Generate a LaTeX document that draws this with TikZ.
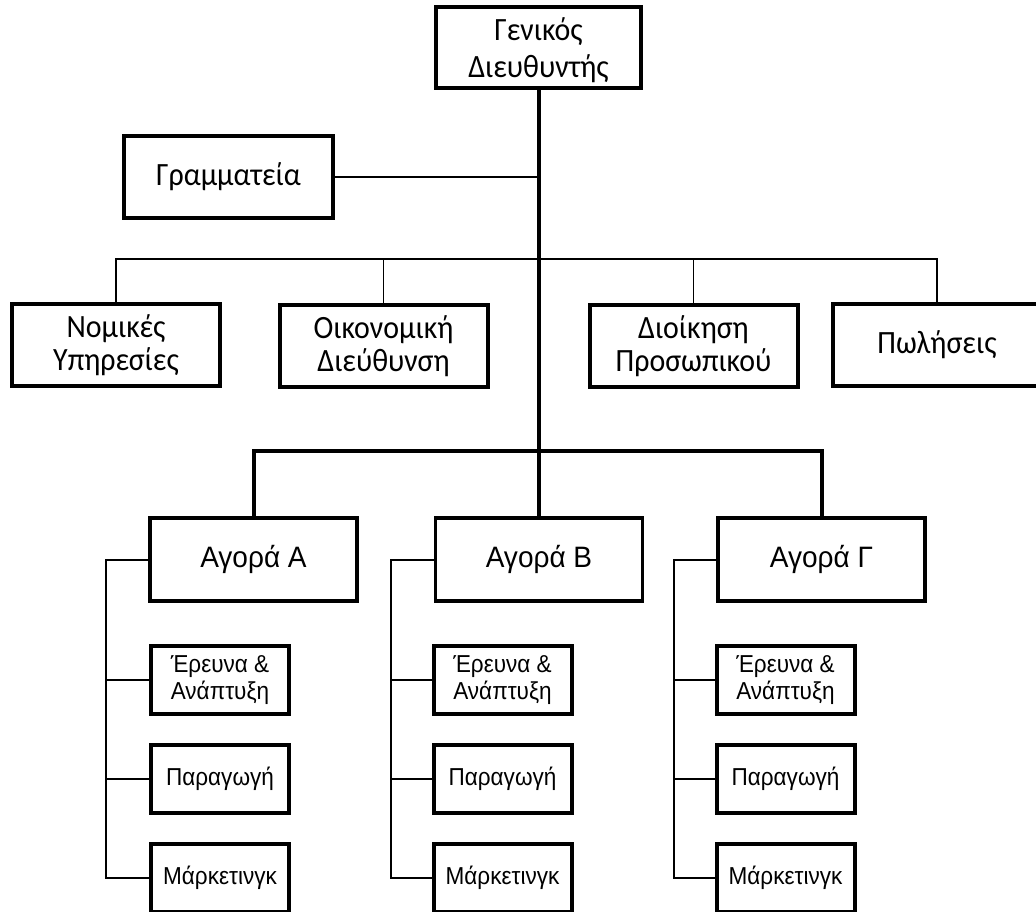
\documentclass[tikz,border=0pt]{standalone}
\usepackage{fontspec}
\setmainfont{Liberation Sans}
\newfontfamily\headfont[FakeStretch=0.92]{Carlito}
\newfontfamily\marketfont[FakeStretch=0.95]{Liberation Sans}
\newfontfamily\deptfont[FakeStretch=0.92]{Liberation Sans}
\begin{document}
\begin{tikzpicture}[x=1pt,y=-1pt,
  box/.style={draw, rectangle, line width=4pt, inner sep=0pt, align=center},
  headbox/.style={box, minimum width=208pt, minimum height=82pt,
    font=\headfont\fontsize{32.5}{33}\selectfont},
  marketbox/.style={box, line width=3.6pt, minimum width=207pt, minimum height=83pt,
    font=\marketfont\fontsize{29.5}{33}\selectfont},
  subbox/.style={box, minimum width=138pt, minimum height=68pt,
    font=\deptfont\fontsize{24.5}{27}\selectfont},
  trunk/.style={line width=4pt},
  thinline/.style={line width=1.3pt},
  bracket/.style={line width=2pt}]
\useasboundingbox (0,0) rectangle (1036,912);

% top management and staff units
\node[headbox, minimum width=205pt, minimum height=81pt,
  font=\headfont\fontsize{32.5}{37}\selectfont] (gm) at (538.5,47.5)
  {\rule{0pt}{29pt}Γενικός\\Διευθυντής};
\node[headbox, minimum width=209pt] (gram) at (228.5,177) {Γραμματεία};
\node[headbox] (nom) at (116,345) {Νομικές\\Υπηρεσίες};
\node[headbox] (oik) at (383.5,346) {Οικονομική\\Διεύθυνση};
\node[headbox] (dio) at (693.5,346) {Διοίκηση\\Προσωπικού};
\node[headbox] (pol) at (937,345) {Πωλήσεις};

\coordinate (bj) at (538.5,259);
\coordinate (tj) at (538.5,451);

% markets and their departments
\foreach \k/\cx/\sx/\bx/\lab in {A/253.5/220/106/{Αγορά Α}, B/539/502.5/391/{Αγορά Β}, G/821.5/785.5/674/{Αγορά Γ}} {
  \node[marketbox] (m\k) at (\cx,559.5) {\lab};
  \node[subbox] (r\k) at (\sx,680) {Έρευνα \&\\Ανάπτυξη};
  \node[subbox] (p\k) at (\sx,778.5) {Παραγωγή};
  \node[subbox] (k\k) at (\sx,877.5) {Μάρκετινγκ};
  \coordinate (b\k) at (\bx,559.5);
  \draw[bracket] (m\k.west) -- (b\k) |- (k\k.west);
  \draw[bracket] (b\k |- r\k.west) -- (r\k.west);
  \draw[bracket] (b\k |- p\k.west) -- (p\k.west);
}

% main line of authority
\draw[trunk] (gm.south) -- (gm.south |- mB.north);
\draw[trunk] (mA.north) -- (mA.north |- tj) -- (mG.north |- tj) -- (mG.north);

% staff connections
\draw[thinline] (gram.east) -- (gram.east -| gm.south);
\draw[thinline] (nom.north) -- (nom.north |- bj) -- (pol.north |- bj) -- (pol.north);
\draw[thinline] (oik.north) -- (oik.north |- bj);
\draw[thinline] (dio.north) -- (dio.north |- bj);
\end{tikzpicture}
\end{document}
